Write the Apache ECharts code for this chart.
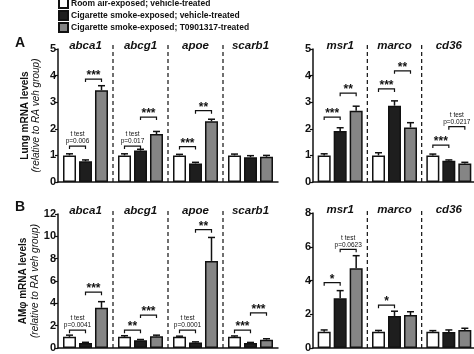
<!DOCTYPE html>
<html>
<head>
<meta charset="utf-8">
<script src="https://cdn.jsdelivr.net/npm/echarts@6/dist/echarts.min.js"></script>
<style>
  html, body { margin: 0; padding: 0; background: #fff; }
  #chart { width: 474px; height: 354px; }
</style>
</head>
<body>
<div id="chart"></div>
<script>
const genes = ["abca1", "abcg1", "apoe", "scarb1", "msr1", "marco", "cd36"];
const groupNames = [
  "Room air-exposed; vehicle-treated",
  "Cigarette smoke-exposed; vehicle-treated",
  "Cigarette smoke-exposed; T0901317-treated"
];

// A: lung mRNA (mean, SEM)
const lungRA = [1.0, 1.0, 1.0, 1.0, 1.0, 1.0, 1.0];
const lungRAErr = [0.06, 0.06, 0.04, 0.05, 0.06, 0.1, 0.05];
const lungCS = [0.78, 1.18, 0.7, 0.93, 1.92, 2.87, 0.8];
const lungCSErr = [0.05, 0.05, 0.04, 0.06, 0.12, 0.18, 0.03];
const lungT09 = [3.45, 1.8, 2.28, 0.95, 2.68, 2.05, 0.7];
const lungT09Err = [0.17, 0.1, 0.08, 0.05, 0.17, 0.18, 0.04];

// B: AM mRNA
const amRA = [1.0, 1.0, 1.0, 1.0, 0.97, 0.97, 0.97];
const amRAErr = [0.15, 0.1, 0.06, 0.08, 0.1, 0.07, 0.06];
const amCS = [0.45, 0.7, 0.5, 0.45, 2.95, 1.9, 0.95];
const amCSErr = [0.06, 0.06, 0.05, 0.05, 0.45, 0.28, 0.12];
const amT09 = [3.6, 1.05, 7.8, 0.75, 4.72, 1.95, 1.07];
const amT09Err = [0.55, 0.1, 2.1, 0.08, 0.75, 0.2, 0.1];

// brackets: [gene, fromGroup, toGroup, y, label]
const lungSig = [
  [0, 0, 1, 1.35, "t test\np=0.006"], [0, 1, 2, 3.87, "***"],
  [1, 0, 1, 1.35, "t test\np=0.017"], [1, 1, 2, 2.44, "***"],
  [2, 0, 1, 1.33, "***"], [2, 1, 2, 2.68, "**"],
  [4, 0, 1, 2.44, "***"], [4, 1, 2, 3.34, "**"],
  [5, 0, 1, 3.5, "***"], [5, 1, 2, 4.18, "**"],
  [6, 0, 1, 1.39, "***"], [6, 1, 2, 2.08, "t test\np=0.0217"]
];
const amSig = [
  [0, 0, 1, 1.6, "t test\np=0.0041"], [0, 1, 2, 5.0, "***"],
  [1, 0, 1, 1.6, "**"], [1, 1, 2, 2.95, "***"],
  [2, 0, 1, 1.6, "t test\np=0.0001"], [2, 1, 2, 10.6, "**"],
  [3, 0, 1, 1.6, "***"], [3, 1, 2, 3.15, "***"],
  [4, 0, 1, 3.87, "*"], [4, 1, 2, 5.85, "t test\np=0.0623"],
  [5, 0, 1, 2.54, "*"]
];

const FF = '"Liberation Sans", Arial, sans-serif';
const INK = "#111";
const barColors = ["#ffffff", "#1e1e1e", "#858585"];
const offsets = [-16, 0, 16]; // bar centres relative to category centre (barWidth 13, gap 3)

const panels = [
  { grid: { left: 58, top: 49, width: 220, height: 133 }, genes: [0, 1, 2, 3], max: 5, step: 1,
    means: [lungRA, lungCS, lungT09], errs: [lungRAErr, lungCSErr, lungT09Err], sig: lungSig,
    name: "{b|Lung mRNA levels}\n{i|(relative to RA veh group)}" },
  { grid: { left: 313, top: 49, width: 163, height: 133 }, genes: [4, 5, 6], max: 5, step: 1,
    means: [lungRA, lungCS, lungT09], errs: [lungRAErr, lungCSErr, lungT09Err], sig: lungSig },
  { grid: { left: 58, top: 214, width: 220, height: 134 }, genes: [0, 1, 2, 3], max: 12, step: 2,
    means: [amRA, amCS, amT09], errs: [amRAErr, amCSErr, amT09Err], sig: amSig,
    name: "{b|AMφ mRNA levels}\n{i|(relative to RA veh group)}" },
  { grid: { left: 313, top: 213, width: 163, height: 135 }, genes: [4, 5, 6], max: 8, step: 2,
    means: [amRA, amCS, amT09], errs: [amRAErr, amCSErr, amT09Err], sig: amSig }
];

const chart = echarts.init(document.getElementById("chart"));

const grids = [], xAxes = [], yAxes = [], series = [];

panels.forEach((p, pi) => {
  grids.push(Object.assign({ containLabel: false, outerBoundsMode: "none" }, p.grid));
  const cats = p.genes.map(g => genes[g]);
  // bottom axis (line + bars)
  xAxes.push({
    type: "category", gridIndex: pi, data: cats, position: "bottom",
    axisLine: { lineStyle: { color: INK, width: 1.5 } },
    axisTick: { show: false }, axisLabel: { show: false }, splitLine: { show: false }
  });
  // top axis only for gene names
  xAxes.push({
    type: "category", gridIndex: pi, data: cats, position: "top",
    axisLine: { show: false }, axisTick: { show: false },
    axisLabel: { interval: 0, margin: -3, color: INK, fontFamily: FF, fontSize: 11.5,
      fontWeight: "bold", fontStyle: "italic" }
  });
  yAxes.push({
    type: "value", gridIndex: pi, min: 0, max: p.max, interval: p.step,
    axisLine: { show: true, lineStyle: { color: INK, width: 1.5 } },
    axisTick: { show: true, length: 3, lineStyle: { color: INK, width: 1.2 } },
    axisLabel: { margin: 2, color: INK, fontFamily: FF, fontSize: 11, fontWeight: "bold" },
    splitLine: { show: false },
    name: p.name || "", nameLocation: "middle", nameRotate: 90, nameGap: 16,
    nameTextStyle: {
      rich: {
        b: { fontFamily: FF, fontSize: 10, fontWeight: "bold", color: INK, lineHeight: 11.5 },
        i: { fontFamily: FF, fontSize: 10, fontStyle: "italic", color: INK, lineHeight: 11.5 }
      }
    }
  });
  const xb = pi * 2;

  // bars
  p.means.forEach((arr, k) => {
    series.push({
      type: "bar", name: groupNames[k], xAxisIndex: xb, yAxisIndex: pi,
      data: p.genes.map(g => arr[g]),
      barWidth: 13, barGap: "23%",
      itemStyle: { color: barColors[k], borderColor: INK, borderWidth: 1.5 },
      emphasis: { disabled: true }, silent: true
    });
  });

  // error bars (upper SEM only)
  p.errs.forEach((arr, k) => {
    series.push({
      type: "custom", xAxisIndex: xb, yAxisIndex: pi, silent: true,
      data: p.genes.map((g, i) => [i, p.means[k][g], arr[g]]),
      encode: { x: 0, y: 1 },
      renderItem: (params, api) => {
        const c = api.value(0), m = api.value(1), e = api.value(2);
        const p0 = api.coord([c, m]), p1 = api.coord([c, m + e]);
        const x = p0[0] + offsets[k];
        const st = { stroke: INK, lineWidth: 1.5 };
        return { type: "group", children: [
          { type: "line", shape: { x1: x, y1: p0[1], x2: x, y2: p1[1] }, style: st },
          { type: "line", shape: { x1: x - 3.5, y1: p1[1], x2: x + 3.5, y2: p1[1] }, style: st }
        ] };
      }
    });
  });

  // dashed separators between genes
  series.push({
    type: "custom", xAxisIndex: xb, yAxisIndex: pi, silent: true,
    data: p.genes.slice(1).map((g, i) => [i + 1, 0]),
    encode: { x: 0, y: 1 },
    renderItem: (params, api) => {
      const i = api.value(0);
      const w = api.size([1, 0])[0];
      const b = api.coord([i, 0]), t = api.coord([i, p.max]);
      const x = b[0] - w / 2;
      return { type: "line", shape: { x1: x, y1: b[1], x2: x, y2: t[1] - 4 },
        style: { stroke: INK, lineWidth: 1.2, lineDash: [4, 3] } };
    }
  });

  // significance brackets
  const sig = p.sig.filter(s => p.genes.includes(s[0]));
  series.push({
    type: "custom", xAxisIndex: xb, yAxisIndex: pi, silent: true, z: 5,
    data: sig.map(s => [p.genes.indexOf(s[0]), s[1], s[2], s[3]]),
    encode: { x: 0, y: 3 },
    renderItem: (params, api) => {
      const s = sig[params.dataIndex];
      const c = api.value(0);
      const pt = api.coord([c, api.value(3)]);
      const x1 = pt[0] + offsets[api.value(1)], x2 = pt[0] + offsets[api.value(2)];
      const y = pt[1];
      const small = s[4].indexOf("t test") === 0;
      return { type: "group", children: [
        { type: "polyline", shape: { points: [[x1, y + 3], [x1, y], [x2, y], [x2, y + 3]] },
          style: { stroke: INK, lineWidth: 1.2, fill: null } },
        { type: "text", style: {
            text: s[4], x: (x1 + x2) / 2, y: small ? y - 1 : y + 3,
            align: "center", verticalAlign: "bottom",
            fontFamily: FF, fontSize: small ? 6.5 : 12, lineHeight: small ? 7 : 12,
            fontWeight: small ? "normal" : "bold", fill: INK } }
      ] };
    }
  });
});

chart.setOption({
  animation: false,
  backgroundColor: "#fff",
  title: [
    { text: "A", left: 15, top: 36, padding: 0, textStyle: { fontFamily: FF, fontSize: 14, fontWeight: "bold", color: INK } },
    { text: "B", left: 15, top: 200, padding: 0, textStyle: { fontFamily: FF, fontSize: 14, fontWeight: "bold", color: INK } }
  ],
  legend: {
    data: groupNames, orient: "vertical", left: 58, top: -2,
    itemWidth: 9, itemHeight: 9, itemGap: 1, icon: "rect", selectedMode: false,
    padding: 0,
    textStyle: { fontFamily: FF, fontSize: 8.5, fontWeight: "bold", color: INK, padding: [0, 0, 0, -2] }
  },
  grid: grids,
  xAxis: xAxes,
  yAxis: yAxes,
  series: series
});
</script>
</body>
</html>
